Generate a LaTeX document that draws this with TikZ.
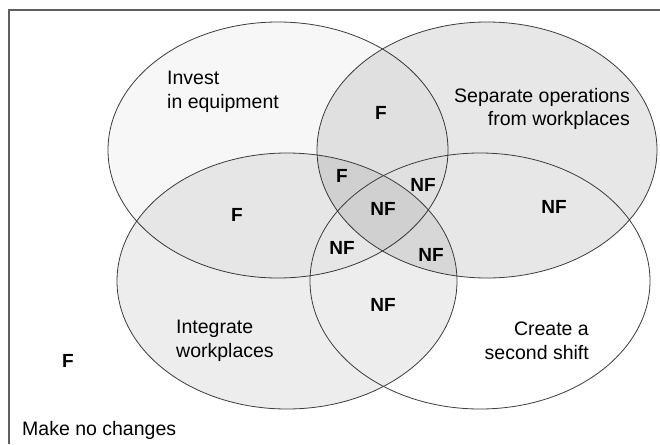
\documentclass[tikz,border=0pt]{standalone}
\usepackage{fontspec}
\setmainfont{Liberation Sans}
\usetikzlibrary{shapes.geometric}
\definecolor{rimGray}{RGB}{60,60,60}
\definecolor{frameGray}{RGB}{95,95,95}

\begin{document}
\begin{tikzpicture}[x=1pt, y=-1pt,
    setshape/.style={ellipse, draw=rimGray, line width=0.8pt, fill=black,
      minimum width=340pt, minimum height=256pt, inner sep=0pt},
    setname/.style={font=\fontsize{19.5}{23.5}\selectfont, inner sep=0pt},
    verdict/.style={font=\fontsize{19}{23}\selectfont\bfseries, inner sep=0pt}]
    \useasboundingbox (0,0) rectangle (660,444);
    \draw[frameGray, line width=1.5pt] (660,10) -- (9,10) -- (9,444);

    % the four options
    \node[setshape, fill opacity=0.03] (equip) at (278,150) {};
    \node[setshape, fill opacity=0.095] (separate) at (487,150) {};
    \node[setshape, fill opacity=0.07] (integrate) at (287,281) {};
    \node[setshape, fill=none] (shift) at (480,281) {};

    \node[setname, align=left, anchor=west] (equiptext) at (167,92) {Invest\\in equipment};
    \node[setname, align=right, anchor=east] (separatetext) at (630,109) {Separate operations\\from workplaces};
    \node[setname, align=left, anchor=west] (integratetext) at (176,341) {Integrate\\workplaces};
    \node[setname, align=right, anchor=east] (shifttext) at (589,341) {Create a\\second shift};
    \node[setname, anchor=base west] (nochange) at (22,435) {Make no changes};

    % feasible / not feasible for each region
    \foreach \txt/\x/\y [count=\i] in {F/381/113, F/237/215, F/342/176, NF/423/185,
        NF/383/209, NF/342/248, NF/431/255, NF/554/207, NF/383/305, F/68/361}
      \node[verdict] (verdict\i) at (\x,\y) {\txt};
\end{tikzpicture}
\end{document}
